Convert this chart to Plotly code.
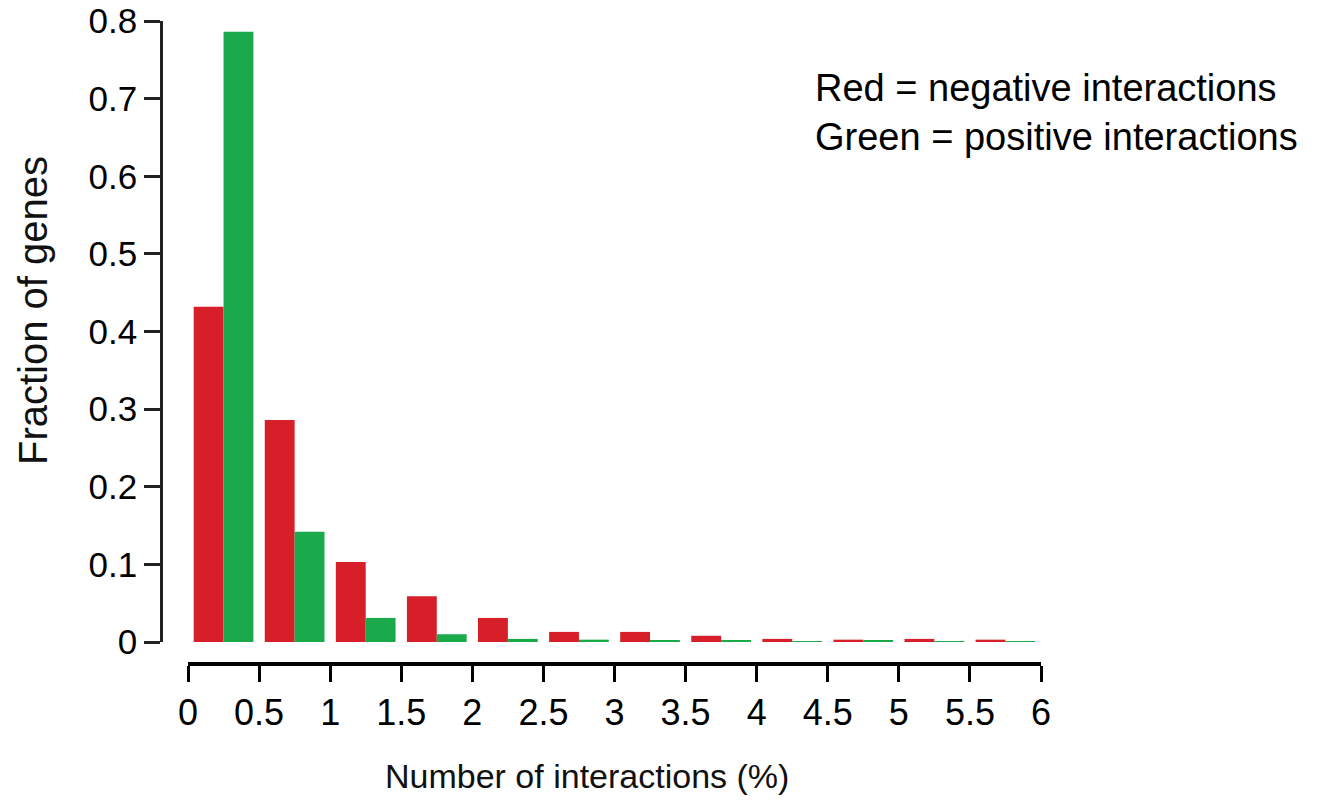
import plotly.graph_objects as go

# Bin centres (bins of 0.5 % interactions) and per-bin gene fractions
bin_centers = [0.25, 0.75, 1.25, 1.75, 2.25, 2.75, 3.25, 3.75, 4.25, 4.75, 5.25, 5.75]
negative_frac = [0.432, 0.286, 0.103, 0.059, 0.031, 0.013, 0.013, 0.008, 0.004, 0.003, 0.004, 0.003]
positive_frac = [0.786, 0.142, 0.031, 0.010, 0.004, 0.003, 0.002, 0.002, 0.001, 0.002, 0.001, 0.001]

x_ticks = [0, 0.5, 1, 1.5, 2, 2.5, 3, 3.5, 4, 4.5, 5, 5.5, 6]
x_tick_text = ["0", "0.5", "1", "1.5", "2", "2.5", "3", "3.5", "4", "4.5", "5", "5.5", "6"]
y_ticks = [0, 0.1, 0.2, 0.3, 0.4, 0.5, 0.6, 0.7, 0.8]
y_tick_text = ["0", "0.1", "0.2", "0.3", "0.4", "0.5", "0.6", "0.7", "0.8"]

RED = "#D71F29"
GREEN = "#1AAA4C"
FONT = "Liberation Sans, Arial, Helvetica, sans-serif"

W, H = 1333, 800

fig = go.Figure()
fig.add_trace(go.Bar(x=bin_centers, y=negative_frac, name="negative",
                     marker=dict(color=RED, line=dict(width=0))))
fig.add_trace(go.Bar(x=bin_centers, y=positive_frac, name="positive",
                     marker=dict(color=GREEN, line=dict(width=0))))

fig.update_layout(
    width=W, height=H,
    margin=dict(l=0, r=0, t=0, b=0),
    paper_bgcolor="white", plot_bgcolor="white",
    barmode="group", bargap=0.16, bargroupgap=0,
    showlegend=False,
    font=dict(family=FONT, color="black"),
    xaxis=dict(
        domain=[188 / W, 1041 / W], range=[0, 6],
        anchor="free", position=(H - 664) / H,
        showline=True, linewidth=4, linecolor="black",
        ticks="outside", ticklen=16, tickwidth=3, tickcolor="black",
        tickvals=x_ticks, ticktext=x_tick_text,
        tickfont=dict(size=36, family=FONT, color="black"),
        showgrid=False, zeroline=False, automargin=False,
    ),
    yaxis=dict(
        domain=[(H - 642) / H, (H - 21) / H], range=[0, 0.8],
        anchor="free", position=161 / W,
        showline=True, linewidth=2.5, linecolor="#222",
        ticks="outside", ticklen=16, tickwidth=2.5, tickcolor="#222",
        tickvals=y_ticks, ticktext=y_tick_text,
        tickfont=dict(size=35, family=FONT, color="black"),
        showgrid=False, zeroline=False, automargin=False,
    ),
)

# Axis titles
fig.add_annotation(text="Number of interactions (%)", xref="paper", yref="paper",
                   x=587 / W, y=(H - 776) / H, xanchor="center", yanchor="middle",
                   showarrow=False, font=dict(size=34, family=FONT, color="#111"))
fig.add_annotation(text="Fraction of genes", xref="paper", yref="paper",
                   x=33 / W, y=(H - 311) / H, xanchor="center", yanchor="middle",
                   textangle=-90, showarrow=False,
                   font=dict(size=40, family=FONT, color="#111"))

# Colour key
fig.add_annotation(text="Red = negative interactions<br>Green = positive interactions",
                   xref="paper", yref="paper", x=813 / W, y=(H - 112) / H,
                   xanchor="left", yanchor="middle", align="left",
                   showarrow=False, font=dict(size=38, family=FONT, color="black"))

fig.write_html("out.html")
